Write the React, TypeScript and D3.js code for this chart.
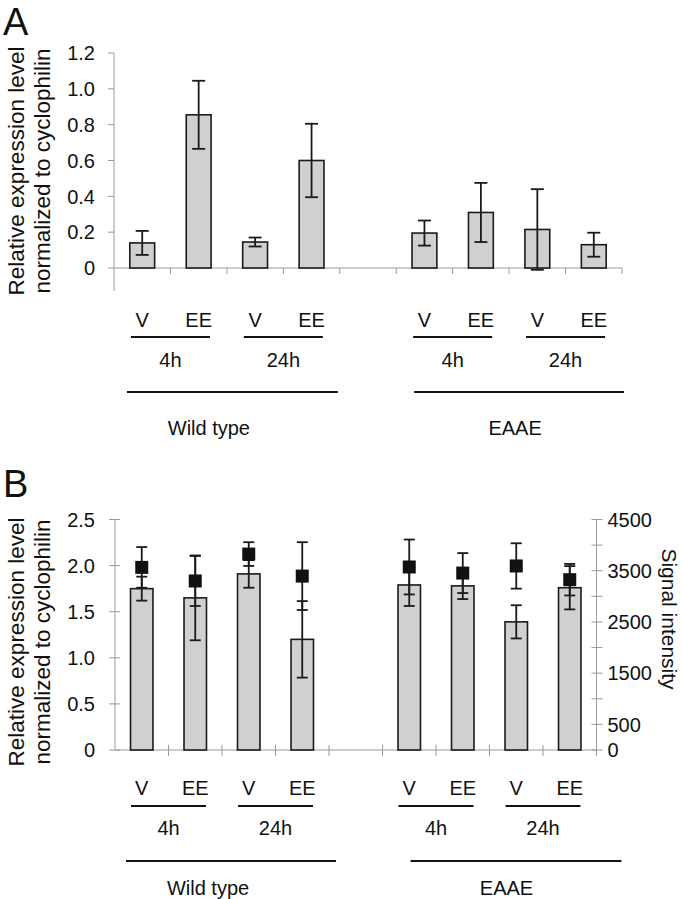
import React from "react";
import * as d3 from "d3";

// nine slots on the x axis, the fifth one is the empty gap between genotypes
const slots = ["wt-4h-V", "wt-4h-EE", "wt-24h-V", "wt-24h-EE", "gap", "eaae-4h-V", "eaae-4h-EE", "eaae-24h-V", "eaae-24h-EE"];
const barSlots = slots.filter((s) => s !== "gap");
const treatments = ["V", "EE", "V", "EE", "V", "EE", "V", "EE"];
const times = ["4h", "24h", "4h", "24h"];
const genotypes = ["Wild type", "EAAE"];

// panel A: relative expression
const exprA = [0.14, 0.855, 0.145, 0.6, 0.195, 0.31, 0.215, 0.13];
const errA = [0.067, 0.19, 0.025, 0.205, 0.07, 0.165, 0.225, 0.067];
const ticksA = [0, 0.2, 0.4, 0.6, 0.8, 1.0, 1.2];
const tickLabelsA = ["0", "0.2", "0.4", "0.6", "0.8", "1.0", "1.2"];

// panel B: relative expression (bars) + signal intensity (squares)
const exprB = [1.75, 1.65, 1.91, 1.2, 1.79, 1.78, 1.39, 1.76];
const errB = [0.13, 0.46, 0.15, 0.415, 0.228, 0.143, 0.18, 0.235];
const signalB = [3565, 3300, 3825, 3395, 3573, 3454, 3593, 3325];
const signalErrB = [397, 488, 232, 662, 536, 390, 443, 308];
const ticksB = [0, 0.5, 1.0, 1.5, 2.0, 2.5];
const tickLabelsB = ["0", "0.5", "1.0", "1.5", "2.0", "2.5"];
const signalTicks = [0, 500, 1000, 1500, 2000, 2500, 3000, 3500, 4000, 4500];
const signalLabels = ["0", "500", "", "1500", "", "2500", "", "3500", "", "4500"];

const FONT = "'Liberation Sans', Arial, Helvetica, sans-serif";
const INK = "#111";
const AXIS = "#9a9a9a";
const BAR_FILL = "#d0d0d0";

const titleLines = ["Relative expression level", "normalized to cyclophilin"];

interface Layout {
  letter: string;
  letterY: number;
  x0: number;
  x1: number;
  yTop: number;
  yZero: number;
  yAxisBottom: number;
  max: number;
  titleY: number;
  barFrac: number;
  capW: number;
  labelY: number;
  shortY: number;
  timeY: number;
  longY: number;
  genoY: number;
  longOff: [number, number][];
  genoOff: number[];
  crossTicks: boolean;
}

const layoutA: Layout = {
  letter: "A",
  letterY: 35,
  x0: 114,
  x1: 622,
  yTop: 53,
  yZero: 268,
  yAxisBottom: 291,
  max: 1.2,
  titleY: 171,
  barFrac: 0.44,
  capW: 13,
  labelY: 327,
  shortY: 337,
  timeY: 367,
  longY: 392,
  genoY: 435,
  longOff: [[13, -2], [18, 2]],
  genoOff: [-18, 6],
  crossTicks: false,
};

const layoutB: Layout = {
  letter: "B",
  letterY: 497,
  x0: 115,
  x1: 596.5,
  yTop: 519.5,
  yZero: 750,
  yAxisBottom: 750,
  max: 2.5,
  titleY: 642,
  barFrac: 0.42,
  capW: 11,
  labelY: 795,
  shortY: 806,
  timeY: 835,
  longY: 861,
  genoY: 895,
  longOff: [[11, 7], [28, 25]],
  genoOff: [-14, 17],
  crossTicks: true,
};

function ErrorBar({ x, y0, y1, w }: { x: number; y0: number; y1: number; w: number }) {
  return (
    <g stroke="#1a1a1a" strokeWidth={1.8}>
      <line x1={x} x2={x} y1={y0} y2={y1} />
      <line x1={x - w / 2} x2={x + w / 2} y1={y0} y2={y0} />
      <line x1={x - w / 2} x2={x + w / 2} y1={y1} y2={y1} />
    </g>
  );
}

function Panel({
  L,
  values,
  errors,
  ticks,
  tickLabels,
  signal,
}: {
  L: Layout;
  values: number[];
  errors: number[];
  ticks: number[];
  tickLabels: string[];
  signal?: { values: number[]; errors: number[] };
}) {
  const x = d3.scaleBand<string>().domain(slots).range([L.x0, L.x1]).padding(0);
  const bw = x.bandwidth();
  const y = d3.scaleLinear().domain([0, L.max]).range([L.yZero, L.yTop]);
  const y2 = d3.scaleLinear().domain([0, 4500]).range([L.yZero, L.yTop]);
  const cx = (s: string) => (x(s) as number) + bw / 2;
  const barW = bw * L.barFrac;
  const tickIn = L.crossTicks ? 5 : 0;

  // pairs of slots that make up each time point, and each genotype
  const pairs = [
    [barSlots[0], barSlots[1]],
    [barSlots[2], barSlots[3]],
    [barSlots[4], barSlots[5]],
    [barSlots[6], barSlots[7]],
  ];
  const groups = [
    [barSlots[0], barSlots[3]],
    [barSlots[4], barSlots[7]],
  ];

  return (
    <g fontFamily={FONT} fill={INK}>
      <text x={3} y={L.letterY} fontSize={38}>
        {L.letter}
      </text>

      {titleLines.map((t, i) => (
        <text
          key={t}
          transform={`translate(${24 + i * 26},${L.titleY}) rotate(-90)`}
          textAnchor="middle"
          fontSize={22.5}
        >
          {t}
        </text>
      ))}

      {/* left axis */}
      <line x1={L.x0} x2={L.x0} y1={L.yTop} y2={L.yAxisBottom} stroke={AXIS} strokeWidth={1} />
      {ticks.map((t, i) => (
        <g key={t}>
          <line x1={L.x0 - 6} x2={L.x0 + tickIn} y1={y(t)} y2={y(t)} stroke={AXIS} />
          <text x={95} y={y(t)} dy="0.36em" textAnchor="end" fontSize={20}>
            {tickLabels[i]}
          </text>
        </g>
      ))}

      {/* x axis */}
      <line x1={L.x0} x2={L.x1} y1={L.yZero} y2={L.yZero} stroke={AXIS} />
      {slots.map((s) => (
        <line key={s} x1={(x(s) as number) + bw} x2={(x(s) as number) + bw} y1={L.yZero - tickIn} y2={L.yZero + 6} stroke={AXIS} />
      ))}

      {/* right axis (signal intensity) */}
      {signal && (
        <g>
          <line x1={L.x1} x2={L.x1} y1={L.yTop} y2={L.yZero} stroke={AXIS} />
          {signalTicks.map((t, i) => (
            <g key={t}>
              <line x1={L.x1 - 5} x2={L.x1 + 6} y1={y2(t)} y2={y2(t)} stroke={AXIS} />
              <text x={L.x1 + 11} y={y2(t)} dy="0.36em" fontSize={20}>
                {signalLabels[i]}
              </text>
            </g>
          ))}
          <text transform={`translate(662,619) rotate(90)`} textAnchor="middle" fontSize={21}>
            Signal intensity
          </text>
        </g>
      )}

      {/* bars */}
      {barSlots.map((s, i) => (
        <rect
          key={s}
          x={cx(s) - barW / 2}
          y={y(values[i])}
          width={barW}
          height={L.yZero - y(values[i])}
          fill={BAR_FILL}
          stroke="#1a1a1a"
          strokeWidth={1.6}
        />
      ))}
      {barSlots.map((s, i) => (
        <ErrorBar key={s} x={cx(s)} y0={y(values[i] + errors[i])} y1={y(values[i] - errors[i])} w={L.capW} />
      ))}

      {signal &&
        barSlots.map((s, i) => (
          <g key={s}>
            <ErrorBar
              x={cx(s)}
              y0={y2(signal.values[i] + signal.errors[i])}
              y1={y2(signal.values[i] - signal.errors[i])}
              w={L.capW}
            />
            <rect x={cx(s) - 6.5} y={y2(signal.values[i]) - 6.5} width={13} height={13} fill="#111" />
          </g>
        ))}

      {/* category annotations */}
      {barSlots.map((s, i) => (
        <text key={s} x={cx(s)} y={L.labelY} textAnchor="middle" fontSize={20}>
          {treatments[i]}
        </text>
      ))}
      {pairs.map((p, i) => {
        const c = (cx(p[0]) + cx(p[1])) / 2;
        return (
          <g key={i}>
            <line x1={c - bw * 0.7} x2={c + bw * 0.7} y1={L.shortY} y2={L.shortY} stroke="#111" strokeWidth={2} />
            <text x={c} y={L.timeY} textAnchor="middle" fontSize={20}>
              {times[i]}
            </text>
          </g>
        );
      })}
      {groups.map((g, i) => {
        const a = (x(g[0]) as number) + L.longOff[i][0];
        const b = (x(g[1]) as number) + bw + L.longOff[i][1];
        const c = ((x(g[0]) as number) + (x(g[1]) as number) + bw) / 2 + L.genoOff[i];
        return (
          <g key={i}>
            <line x1={a} x2={b} y1={L.longY} y2={L.longY} stroke="#111" strokeWidth={2.2} />
            <text x={c} y={L.genoY} textAnchor="middle" fontSize={20}>
              {genotypes[i]}
            </text>
          </g>
        );
      })}
    </g>
  );
}

export default function App() {
  return (
    <svg
      width={682}
      height={899}
      style={{ position: "absolute", left: 0, top: 0, background: "#fff" }}
    >
      <rect width={682} height={899} fill="#fff" />
      <Panel L={layoutA} values={exprA} errors={errA} ticks={ticksA} tickLabels={tickLabelsA} />
      <Panel
        L={layoutB}
        values={exprB}
        errors={errB}
        ticks={ticksB}
        tickLabels={tickLabelsB}
        signal={{ values: signalB, errors: signalErrB }}
      />
    </svg>
  );
}
